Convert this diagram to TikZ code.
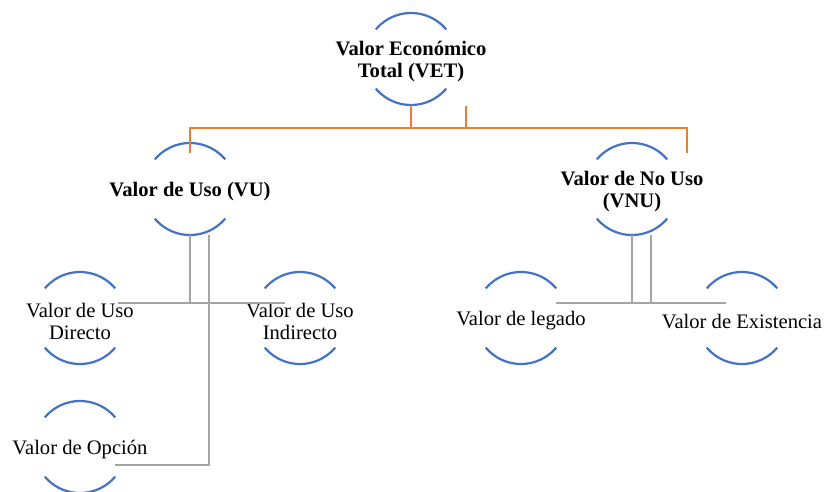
\documentclass[tikz,border=0pt]{standalone}
\usepackage{fontspec}
\setmainfont{Liberation Serif}
\definecolor{arcblue}{HTML}{4472C4}
\definecolor{lineorange}{HTML}{ED7D31}
\definecolor{linegray}{HTML}{A5A5A5}
\tikzset{
  circ/.style={circle, minimum size=92pt, inner sep=0pt, outer sep=0pt, draw=none},
  lbl/.style={align=center, inner sep=0pt, yshift=-3pt, font=\fontsize{20.6}{22}\selectfont},
  blbl/.style={lbl, font=\fontsize{20.6}{22}\selectfont\bfseries},
  arcs/.style={draw=arcblue, line width=2.2pt},
  oline/.style={draw=lineorange, line width=2.2pt},
  gline/.style={draw=linegray, line width=2.4pt},
}
\newcommand{\ringarcs}[1]{%
  \draw[arcs] (#1.40) arc (40:140:46pt);
  \draw[arcs] (#1.220) arc (220:320:46pt);
}
\begin{document}
\begin{tikzpicture}[x=1pt, y=-1pt]
\useasboundingbox (0,0) rectangle (826,491);
\begin{scope}
\clip (0,0) rectangle (826,491);
% circles
\node[circ] (vet) at (411,59) {};
\node[circ] (vu) at (190,189) {};
\node[circ] (vnu) at (632,189) {};
\node[circ] (dir) at (80,318) {};
\node[circ] (ind) at (300,318) {};
\node[circ] (opc) at (80,447) {};
\node[circ] (leg) at (521,318) {};
\node[circ] (exi) at (742,318) {};
\foreach \n in {vet,vu,vnu,dir,ind,opc,leg,exi} {\ringarcs{\n}}
% labels
\node[blbl] (tvet) at (vet.center) {Valor Económico\\Total (VET)};
\node[blbl] (tvu) at (vu.center) {Valor de Uso (VU)};
\node[blbl] (tvnu) at (vnu.center) {Valor de No Uso\\(VNU)};
\node[lbl] (tdir) at (dir.center) {Valor de Uso\\Directo};
\node[lbl] (tind) at (ind.center) {Valor de Uso\\Indirecto};
\node[lbl] (topc) at (opc.center) {Valor de Opción};
\node[lbl] (tleg) at (leg.center) {Valor de legado};
\node[lbl] (texi) at (exi.center) {Valor de Existencia};
% orange connectors
\coordinate (bus) at (411,128);
\coordinate (vnuT) at (687,153);
\coordinate (stub) at (466,106);
\draw[oline] (vet.south) -- (bus);
\draw[oline] ([yshift=-10pt]vu.north) |- (bus) -| (vnuT);
\draw[oline] (stub) -- (stub |- bus);
% gray connectors, left
\coordinate (dirE) at (118,303);
\coordinate (indE) at (285,303);
\coordinate (opcE) at (115,465);
\coordinate (vu2) at (209,235);
\draw[gline] (vu.south) |- (dirE);
\draw[gline] (vu.south) |- (indE);
\draw[gline] (vu2) |- (opcE);
% gray connectors, right
\coordinate (legE) at (556,303);
\coordinate (exiE) at (726,303);
\coordinate (vnu2) at (651,235);
\draw[gline] (vnu.south) |- (legE);
\draw[gline] (vnu.south) |- (exiE);
\draw[gline] (vnu2) -- (vnu2 |- legE);
\end{scope}
\end{tikzpicture}
\end{document}
